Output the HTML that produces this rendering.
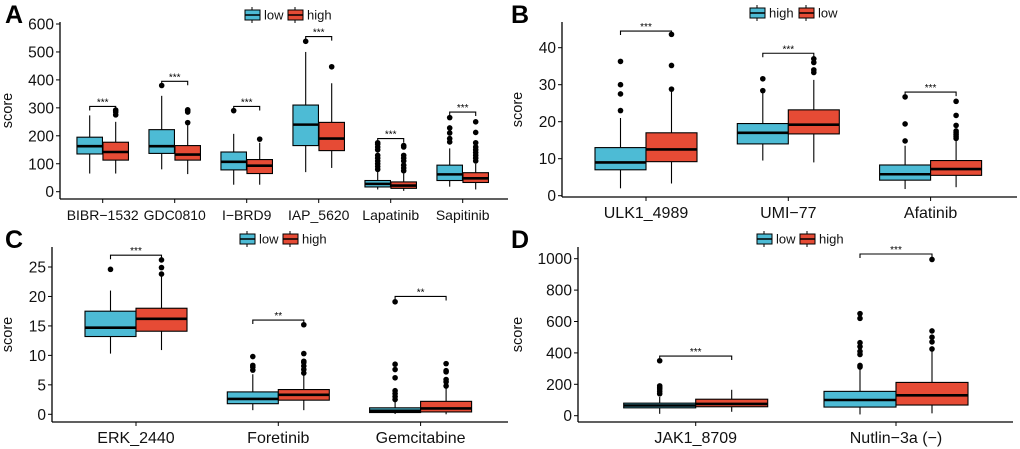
<!DOCTYPE html>
<html><head><meta charset="utf-8"><style>
body{margin:0;background:#fff}
svg{display:block;font-family:"Liberation Sans",Arial,sans-serif}
</style></head><body>
<svg id="c" width="1020" height="449" viewBox="0 0 1020 449"></svg>
<script>
// Panel A data
const catsA=["BIBR\u22121532","GDC0810","I\u2212BRD9","IAP_5620","Lapatinib","Sapitinib"];
const lowA=[[65,135,163,195,273],[80,137,163,222,343],[25,78,107,142,207],[70,165,240,310,500],[8,17,28,40,75],[18,40,62,95,155]];
const highA=[[65,113,142,177,250],[63,113,133,165,237],[25,65,93,115,175],[85,147,190,248,388],[3,12,22,35,65],[8,33,48,68,100]];
const lowOutA=[[],[380],[290],[538],[80,90,100,110,120,130,150,160,170,175],[178,190,210,228,265]];
const highOutA=[[275,285,292],[247,285,290,293],[188],[447],[75,85,95,110,120,130,160,165],[110,120,130,140,150,160,175,212,250]];
const sigA=["***","***","***","***","***","***"];
const sigYA=[305,395,305,555,190,285];
const ticksA=[0,100,200,300,400,500,600];
// Panel B data
const catsB=["ULK1_4989","UMI\u221277","Afatinib"];
const lowB=[[2,7,9,13,21],[9.5,14,17,19.5,28],[1.8,4.2,5.8,8.3,13.5]];
const highB=[[3.3,9.2,12.5,17,28.5],[9,16.7,19.2,23.2,31.3],[2.3,5.5,7.2,9.5,15]];
const lowOutB=[[23,27.5,30,36.3],[28.4,31.6],[14.8,19.4,26.7]];
const highOutB=[[28.8,35.2,43.6],[33.3,34,36,37],[15.5,16,16.5,17,17.5,19,21.7,25.5]];
const sigB=["***","***","***"];
const sigYB=[44.5,38.5,28];
const ticksB=[0,10,20,30,40];
// Panel C data
const catsC=["ERK_2440","Foretinib","Gemcitabine"];
const lowC=[[10.3,13.2,14.7,17.5,21],[0.7,1.8,2.6,3.8,6.8],[0.05,0.3,0.6,1.1,2.3]];
const highC=[[10.9,14.1,16.2,18,23.5],[0.7,2.4,3.3,4.2,6.8],[0,0.4,1,2.2,4.5]];
const lowOutC=[[24.6],[7.5,8,8.3,9.8],[2.5,3,3.5,4,6.2,7.6,8.5,19.1]];
const highOutC=[[23.8,24.9,26.2],[7,7.6,8.2,8.8,9,10.3,15.2],[4.8,5.5,5.9,7.2,7.4,8.6]];
const sigC=["***","**","**"];
const sigYC=[27,16,20];
const ticksC=[0,5,10,15,20,25];
// Panel D data
const catsD=["JAK1_8709","Nutlin\u22123a (\u2212)"];
const lowD=[[12,50,65,80,120],[8,55,100,155,300]];
const highD=[[25,57,75,105,165],[15,68,130,212,420]];
const lowOutD=[[140,155,170,180,190,350],[310,320,390,410,440,465,620,650]];
const highOutD=[[],[425,470,500,540,995]];
const sigD=["***","***"];
const sigYD=[380,1030];
const ticksD=[0,200,400,600,800,1000];

const NS="http://www.w3.org/2000/svg";
const svg=document.getElementById('c');
function mk(tag,attrs,parent){const e=document.createElementNS(NS,tag);for(const k in attrs)e.setAttribute(k,attrs[k]);(parent||svg).appendChild(e);return e;}

function panel(p){
  const g=mk('g',{});
  
  
  const y=v=>p.y0+(v-p.vmin)*(p.y1-p.y0)/(p.vmax-p.vmin);
  const x=i=>p.x0+i*p.step;
  const lt=mk('text',{x:p.lx,y:p.ly,'font-size':25,'font-weight':'bold',fill:'#000'},g);lt.textContent=p.id;
  
  
  const ya=mk('line',{x1:p.ax,y1:p.ytop,x2:p.ax,y2:p.axy,stroke:'#000','stroke-width':1.3},g);
  
  
  const xa=mk('line',{x1:p.ax,y1:p.axy,x2:p.xend,y2:p.axy,stroke:'#000','stroke-width':1.3},g);
  
  
  p.ticks.forEach(t=>{
    mk('line',{x1:p.ax-4,x2:p.ax,y1:y(t),y2:y(t),stroke:'#000'},g);
    const tt=mk('text',{x:p.ax-6,y:y(t)+5.5,'font-size':15.5,'text-anchor':'end',fill:'#111'},g);tt.textContent=t;
    
    
  });
  const yt=mk('text',{x:0,y:0,'font-size':14.5,'text-anchor':'middle',fill:'#111',transform:`translate(${p.ax-p.titleOff},${(p.ytop+p.axy)/2}) rotate(-90)`},g);yt.textContent='score';
  
  
  p.cats.forEach((c,i)=>{
    const cx=x(i);
    mk('line',{x1:cx,x2:cx,y1:p.axy,y2:p.axy+4,stroke:'#000'},g);
    const ct=mk('text',{x:cx,y:p.axy+21,'font-size':p.xfs,'text-anchor':'middle',fill:'#111'},g);ct.textContent=c;
    
    
    [[p.low[i],p.lowOut[i],-1,'#4DBBD5'],[p.high[i],p.highOut[i],1,'#E64B35']].forEach(([s,o,d,col])=>{
      const bx=cx+d*p.dodge, w=p.bw;
      mk('line',{x1:bx,x2:bx,y1:y(s[0]),y2:y(s[4]),stroke:'#000','stroke-width':1.1},g);
      const r=mk('rect',{x:bx-w/2,y:y(s[3]),width:w,height:y(s[1])-y(s[3]),fill:col,stroke:'#000','stroke-width':1.1},g);
      
      
      mk('line',{x1:bx-w/2,x2:bx+w/2,y1:y(s[2]),y2:y(s[2]),stroke:'#000','stroke-width':2.6},g);
      o.forEach(v=>{const pt=mk('circle',{cx:bx,cy:y(v),r:2.8,fill:'#000'},g);
        
        });
    });
    const sy=y(p.sigY[i]), x1=cx-p.dodge, x2=cx+p.dodge;
    mk('path',{d:`M${x1},${sy+4}V${sy}H${x2}V${sy+4}`,fill:'none',stroke:'#000','stroke-width':1.1},g);
    const st=mk('text',{x:cx,y:sy-1,'font-size':10,'text-anchor':'middle'},g);st.textContent=p.sig[i];
    
    
  });
  const lg=mk('g',{},g);
  
  
  p.leg.forEach((l,k)=>{
    const lx=p.legx+k*p.legsp;
    mk('line',{x1:lx+7,x2:lx+7,y1:p.legy-8,y2:p.legy+8,stroke:'#000'},lg);
    mk('rect',{x:lx,y:p.legy-5,width:15,height:10,fill:l[1],stroke:'#000'},lg);
    mk('line',{x1:lx,x2:lx+15,y1:p.legy,y2:p.legy,stroke:'#000','stroke-width':1.5},lg);
    const t=mk('text',{x:lx+19,y:p.legy+4.5,'font-size':13,fill:'#111'},lg);t.textContent=l[0];
    
    
  });
}
const B='#4DBBD5',R='#E64B35';
panel({id:'A',lx:5,ly:23,xfs:14,cats:catsA,low:lowA,high:highA,lowOut:lowOutA,highOut:highOutA,sig:sigA,sigY:sigYA,ticks:ticksA,
  vmin:0,vmax:600,y0:191.7,y1:24,ytop:22,axy:199,ax:60,xend:508,x0:102.7,step:72,dodge:13,bw:25.5,titleOff:48,
  leg:[['low',B],['high',R]],legx:245,legsp:43,legy:15});
panel({id:'B',lx:511,ly:23,xfs:16,cats:catsB,low:lowB,high:highB,lowOut:lowOutB,highOut:highOutB,sig:sigB,sigY:sigYB,ticks:ticksB,
  vmin:0,vmax:40,y0:195.7,y1:47.7,ytop:22,axy:197,ax:562,xend:1017,x0:646,step:142.3,dodge:25.5,bw:51,titleOff:40,
  leg:[['high',B],['low',R]],legx:750,legsp:49,legy:13});
panel({id:'C',lx:5,ly:248,xfs:16,cats:catsC,low:lowC,high:highC,lowOut:lowOutC,highOut:highOutC,sig:sigC,sigY:sigYC,ticks:ticksC,
  vmin:0,vmax:25,y0:414.3,y1:267,ytop:247,axy:422,ax:52,xend:508,x0:136,step:142.3,dodge:25.5,bw:51,titleOff:40,
  leg:[['low',B],['high',R]],legx:240,legsp:43,legy:239});
panel({id:'D',lx:511,ly:248,xfs:16,cats:catsD,low:lowD,high:highD,lowOut:lowOutD,highOut:highOutD,sig:sigD,sigY:sigYD,ticks:ticksD,
  vmin:0,vmax:1000,y0:415.7,y1:258.7,ytop:247,axy:422,ax:578,xend:1013,x0:695.7,step:200.3,dodge:36,bw:72,titleOff:56,
  leg:[['low',B],['high',R]],legx:757,legsp:43,legy:239});
</script>
</body></html>
